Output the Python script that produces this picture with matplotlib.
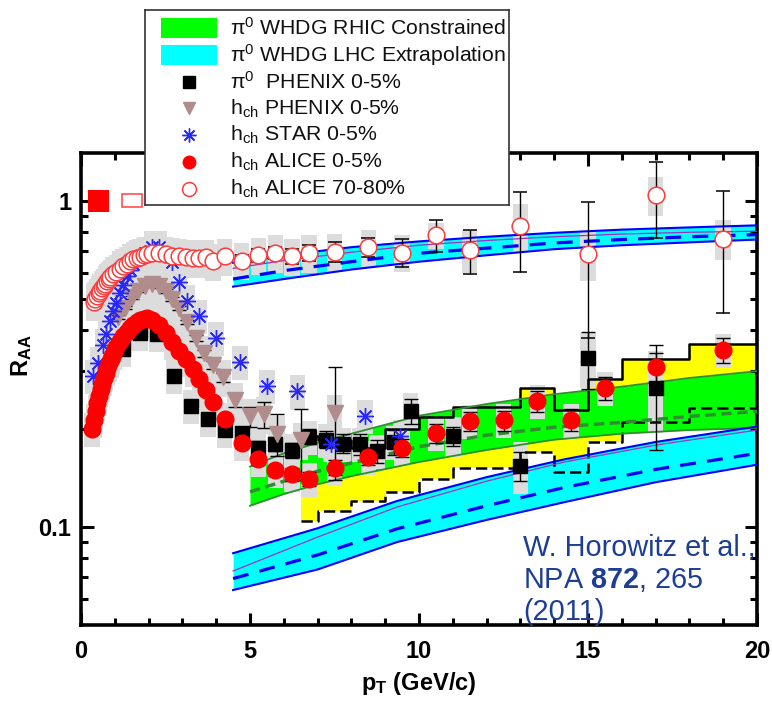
import numpy as np
import matplotlib
matplotlib.use('Agg')
import matplotlib.pyplot as plt
from matplotlib.patches import Rectangle
from matplotlib.ticker import FixedLocator, FixedFormatter, MultipleLocator, NullFormatter

plt.rcParams['font.family'] = ['Liberation Sans', 'DejaVu Sans']
plt.rcParams['mathtext.fontset'] = 'custom'
plt.rcParams['mathtext.rm'] = 'Liberation Sans'
plt.rcParams['mathtext.it'] = 'Liberation Sans:italic'
plt.rcParams['mathtext.bf'] = 'Liberation Sans:bold'

# ---- theory: WHDG RHIC constrained (green band)
rhic_pt = [5, 6, 7, 8, 10, 12, 14, 16, 18, 20]
rhic_hi = [0.153, 0.168, 0.181, 0.193, 0.219, 0.238, 0.255, 0.269, 0.286, 0.300]
rhic_lo = [0.116, 0.126, 0.135, 0.143, 0.158, 0.172, 0.185, 0.193, 0.198, 0.201]
rhic_mid = [0.128, 0.138, 0.148, 0.157, 0.176, 0.191, 0.202, 0.209, 0.218, 0.226]

# ---- theory: WHDG LHC extrapolation, central (lower cyan band)
lhc_pt = [4.5, 7, 9.35, 12, 14.3, 17, 20]
lhc_hi = [0.083, 0.099, 0.120, 0.142, 0.161, 0.182, 0.203]
lhc_lo = [0.064, 0.074, 0.0898, 0.105, 0.119, 0.137, 0.155]
lhc_mid = [0.0694, 0.082, 0.0986, 0.116, 0.132, 0.150, 0.168]
lhc_alt = [0.0732, 0.093, 0.115, 0.138, 0.158, 0.178, 0.198]

# ---- theory: WHDG LHC extrapolation, peripheral (upper cyan band)
per_pt = [4.5, 6, 8, 10, 12, 14, 16, 18, 20]
per_hi = [0.645, 0.68, 0.72, 0.75, 0.775, 0.797, 0.815, 0.828, 0.84]
per_lo = [0.545, 0.575, 0.615, 0.65, 0.68, 0.71, 0.73, 0.745, 0.76]
per_mid = [0.575, 0.61, 0.65, 0.69, 0.715, 0.742, 0.76, 0.775, 0.787]
per_alt = [0.62, 0.655, 0.695, 0.73, 0.755, 0.775, 0.79, 0.80, 0.806]

# ---- yellow histogram band
yb_edges = [6.5, 7, 8, 9, 10, 11, 13, 14, 15, 16, 18, 20]
yb_hi = [0.19, 0.185, 0.175, 0.20, 0.217, 0.233, 0.266, 0.228, 0.283, 0.327, 0.363]
yb_lo = [0.104, 0.112, 0.120, 0.128, 0.140, 0.152, 0.169, 0.147, 0.182, 0.209, 0.231]

# ---- ALICE h_ch 0-5%
alice_c_pt = [0.33, 0.38, 0.43, 0.48, 0.53, 0.58, 0.63, 0.68, 0.73, 0.78, 0.83, 0.88, 0.93, 0.98,
              1.05, 1.15, 1.25, 1.35, 1.45, 1.55, 1.65, 1.75, 1.85, 1.95,
              2.1, 2.3, 2.5, 2.7, 2.9, 3.1, 3.3, 3.5, 3.7, 3.9, 4.25, 4.75,
              5.25, 5.75, 6.25, 6.75, 7.5, 8.5, 9.5, 10.5, 11.5, 12.5, 13.5, 14.5, 15.5, 17.0, 19.0]
alice_c_r = [0.200, 0.212, 0.226, 0.240, 0.252, 0.264, 0.275, 0.286, 0.297, 0.307, 0.317, 0.326, 0.335, 0.343,
             0.355, 0.370, 0.384, 0.396, 0.407, 0.416, 0.424, 0.430, 0.434, 0.436,
             0.432, 0.415, 0.392, 0.368, 0.347, 0.327, 0.304, 0.283, 0.263, 0.242, 0.214, 0.181,
             0.161, 0.149, 0.145, 0.140, 0.152, 0.164, 0.175, 0.194, 0.211, 0.212, 0.243, 0.213, 0.266, 0.310, 0.348]
alice_c_err = [0.0] * 35 + [0.006, 0.006, 0.006, 0.007, 0.007, 0.008, 0.009, 0.011, 0.013,
                            0.014, 0.015, 0.018, 0.017, 0.022, 0.032, 0.031]
alice_c_sys = 0.12

# ---- ALICE h_ch 70-80%
alice_p_pt = [0.37, 0.42, 0.47, 0.52, 0.57, 0.62, 0.67, 0.72, 0.77, 0.82, 0.87, 0.95,
              1.05, 1.15, 1.25, 1.35, 1.45, 1.55, 1.65, 1.75, 1.85, 1.95,
              2.1, 2.3, 2.5, 2.7, 2.9, 3.1, 3.3, 3.5, 3.7, 3.9, 4.25, 4.75,
              5.25, 5.75, 6.25, 6.75, 7.5, 8.5, 9.5, 10.5, 11.5, 13.0, 15.0, 17.0, 19.0]
alice_p_r = [0.49, 0.50, 0.51, 0.52, 0.528, 0.538, 0.547, 0.556, 0.566, 0.575, 0.584, 0.595,
             0.605, 0.619, 0.63, 0.64, 0.652, 0.662, 0.668, 0.674, 0.679, 0.684,
             0.69, 0.692, 0.685, 0.678, 0.675, 0.672, 0.668, 0.668, 0.672, 0.652, 0.676, 0.655,
             0.679, 0.692, 0.676, 0.692, 0.697, 0.72, 0.693, 0.783, 0.705, 0.834, 0.684, 1.04, 0.764]
alice_p_err = [0.0] * 33 + [0.025, 0.03, 0.03, 0.035, 0.037, 0.05, 0.05, 0.068, 0.087,
                            0.11, 0.23, 0.306, 0.27, 0.31]
alice_p_sys = [0.13] * 40 + [0.13, 0.09, 0.15, 0.17, 0.17, 0.14, 0.14]

# ---- PHENIX pi0 0-5%
pi0_pt = [1.25, 1.75, 2.25, 2.75, 3.25, 3.75, 4.25, 4.75, 5.25, 5.75, 6.25, 6.75, 7.25,
          7.75, 8.25, 8.75, 9.25, 9.75, 11.0, 13.0, 15.0, 17.0]
pi0_r = [0.35, 0.393, 0.39, 0.29, 0.235, 0.214, 0.198, 0.194, 0.175, 0.18, 0.172, 0.189, 0.185,
         0.18, 0.179, 0.171, 0.182, 0.227, 0.19, 0.154, 0.33, 0.266]
pi0_err = [0.01, 0.01, 0.01, 0.008, 0.007, 0.007, 0.007, 0.008, 0.008, 0.009, 0.009, 0.01, 0.011,
           0.012, 0.013, 0.014, 0.016, 0.02, 0.013, 0.016, 0.065, 0.094]
pi0_sys = [0.12] * 17 + [0.13, 0.14, 0.18, 0.19, 0.27]

# ---- PHENIX h_ch 0-5%
hph_pt = [1.1, 1.3, 1.5, 1.7, 1.9, 2.1, 2.3, 2.5, 2.7, 2.9, 3.15, 3.4, 3.65, 3.9, 4.2, 4.55,
          5.0, 5.4, 5.8, 6.5, 7.5]
hph_r = [0.44, 0.47, 0.505, 0.53, 0.548, 0.555, 0.548, 0.528, 0.50, 0.468, 0.425, 0.378, 0.34,
         0.313, 0.287, 0.245, 0.218, 0.221, 0.193, 0.184, 0.224]
hph_err = [0.005, 0.005, 0.006, 0.006, 0.006, 0.007, 0.007, 0.007, 0.007, 0.007, 0.007, 0.008,
           0.008, 0.009, 0.01, 0.012, 0.015, 0.02, 0.028, 0.045, 0.085]
hph_sys = 0.13

# ---- STAR h_ch 0-5%
star_pt = [0.36, 0.51, 0.64, 0.74, 0.86, 0.96, 1.05, 1.15, 1.25, 1.35, 1.45, 1.55,
           1.7, 1.9, 2.1, 2.3, 2.7, 2.9, 3.15, 3.5, 4.0, 4.7, 5.5, 6.4, 7.4, 8.4, 9.45]
star_r = [0.29, 0.318, 0.36, 0.39, 0.428, 0.459, 0.487, 0.522, 0.553, 0.586, 0.615, 0.64,
          0.67, 0.69, 0.72, 0.72, 0.648, 0.562, 0.492, 0.442, 0.38, 0.321, 0.27, 0.26, 0.179, 0.219, 0.19]
star_sys = 0.12

# normalisation boxes: (pT centre, half width, relative size)
norm_central = (0.52, 0.31, 0.08)
norm_periph = (1.5, 0.3, 0.045)

W, H = 772, 701
fig = plt.figure(figsize=(W / 100, H / 100), dpi=100)
ax = fig.add_axes([81 / W, 1 - 625 / H, 676 / W, 472 / H])
ax.set_yscale('log')
ax.set_xlim(0, 20)
ax.set_ylim(0.05, 1.4)

GRAY = '#dcdcdc'
BOX_HW = 0.23


def sys_boxes(pt, r, sys):
    sys = np.broadcast_to(sys, len(pt))
    for x, y, s in zip(pt, r, sys):
        ax.add_patch(Rectangle((x - BOX_HW, y * (1 - s)), 2 * BOX_HW, 2 * y * s,
                               facecolor=GRAY, edgecolor='none', zorder=3))


# theory fills
ax.fill_between(yb_edges, np.append(yb_lo, yb_lo[-1]), np.append(yb_hi, yb_hi[-1]),
                step='post', color='#ffff00', lw=0, zorder=1)
ax.fill_between(rhic_pt, rhic_lo, rhic_hi, color='#00ff00', lw=0, zorder=1.2)
ax.fill_between(lhc_pt, lhc_lo, lhc_hi, color='#00ffff', lw=0, zorder=1.2)
ax.fill_between(per_pt, per_lo, per_hi, color='#00ffff', lw=0, zorder=1.2)

# systematic boxes
sys_boxes(pi0_pt, pi0_r, pi0_sys)
sys_boxes(hph_pt, hph_r, hph_sys)
sys_boxes(star_pt, star_r, star_sys)
sys_boxes(alice_c_pt, alice_c_r, alice_c_sys)
sys_boxes(alice_p_pt, alice_p_r, alice_p_sys)

# theory lines
ax.step(yb_edges, np.append(yb_hi, yb_hi[-1]), where='post', color='black', lw=1.8, zorder=4)
ax.step(yb_edges, np.append(yb_lo, yb_lo[-1]), where='post', color='black', lw=1.8,
        dashes=(4.5, 2), zorder=4)
ax.plot(rhic_pt, rhic_hi, color='#2f8f2f', lw=1.3, zorder=4)
ax.plot(rhic_pt, rhic_lo, color='#2f8f2f', lw=1.3, zorder=4)
ax.plot(rhic_pt, rhic_mid, color='#2f8f2f', lw=2.5, dashes=(3, 1.6), zorder=4)
for pt, hi, lo, mid, alt in [(lhc_pt, lhc_hi, lhc_lo, lhc_mid, lhc_alt),
                             (per_pt, per_hi, per_lo, per_mid, per_alt)]:
    ax.plot(pt, hi, color='#0000ff', lw=1.5, zorder=4)
    ax.plot(pt, lo, color='#0000ff', lw=1.5, zorder=4)
    ax.plot(pt, alt, color='#a030c0', lw=0.9, zorder=4)
    ax.plot(pt, mid, color='#0000ff', lw=2.3, dashes=(5, 3.5), zorder=4)

# normalisation uncertainty boxes
c, hw, s = norm_central
ax.add_patch(Rectangle((c - hw, 1 - s), 2 * hw, 2 * s, facecolor='#ff0000', edgecolor='none', zorder=2))
c, hw, s = norm_periph
ax.add_patch(Rectangle((c - hw, 1 - s), 2 * hw, 2 * s, facecolor='white', edgecolor='#ff5050',
                       lw=1.2, zorder=2))

# data
eb = dict(ecolor='black', elinewidth=1, capsize=5, capthick=1, linestyle='none')
ax.errorbar(pi0_pt, pi0_r, yerr=pi0_err, marker='s', ms=9.5, mfc='black', mec='black',
            zorder=5, **eb)
ax.errorbar(hph_pt, hph_r, yerr=hph_err, marker='v', ms=11, mfc='#b08c8c', mec='#b08c8c',
            zorder=6, **eb)
ax.plot(star_pt, star_r, linestyle='none', marker=(8, 2, 0), ms=12, mec='#2828ff', mew=1,
        zorder=7)
ax.errorbar(alice_c_pt, alice_c_r, yerr=alice_c_err, marker='o', ms=12, mfc='#ff0000',
            mec='#ff0000', zorder=8, **eb)
ax.errorbar(alice_p_pt, alice_p_r, yerr=alice_p_err, marker='o', ms=12, mfc='white',
            mec='#ff3b3b', mew=1.1, zorder=9, **eb)

# axes styling
for sp in ax.spines.values():
    sp.set_linewidth(2.6)
ax.xaxis.set_major_locator(MultipleLocator(5))
ax.xaxis.set_minor_locator(MultipleLocator(1))
ax.yaxis.set_major_locator(FixedLocator([0.1, 1]))
ax.yaxis.set_major_formatter(FixedFormatter(['0.1', '1']))
ax.yaxis.set_minor_locator(FixedLocator([0.06, 0.07, 0.08, 0.09, 0.2, 0.3, 0.4, 0.5,
                                         0.6, 0.7, 0.8, 0.9]))
ax.yaxis.set_minor_formatter(NullFormatter())
ax.tick_params(which='both', direction='in', top=True, right=True, width=2.2,
               labelsize=17)
ax.tick_params(which='major', length=9)
ax.tick_params(which='minor', length=5)
ax.tick_params(axis='x', pad=11)
ax.tick_params(axis='y', pad=7)
for lab in ax.get_xticklabels() + ax.get_yticklabels():
    lab.set_fontweight('bold')
ax.set_xlabel(r'p$_\mathbf{T}$ (GeV/c)', fontsize=17, fontweight='bold')
ax.set_ylabel(r'R$_\mathbf{AA}$', fontsize=17, fontweight='bold')
ax.xaxis.set_label_coords(0.5, -0.095)
ax.yaxis.set_label_coords(-0.07, 0.57)

# legend box
lax = fig.add_axes([145 / W, 1 - 205 / H, 364 / W, 195 / H])
lax.set_zorder(10)
lax.set_xlim(0, 364)
lax.set_ylim(195, 0)
lax.set_xticks([])
lax.set_yticks([])
for sp in lax.spines.values():
    sp.set_linewidth(1.2)
    sp.set_color('#333333')

entries = [
    ('patch', '#00ff00', r'π${}^0$ WHDG RHIC Constrained'),
    ('patch', '#00ffff', r'π${}^0$ WHDG LHC Extrapolation'),
    ('s', 'black', r'π${}^0$  PHENIX 0-5%'),
    ('v', '#b08c8c', r'h$_{\rm ch}$ PHENIX 0-5%'),
    ((8, 2, 0), '#2828ff', r'h$_{\rm ch}$ STAR 0-5%'),
    ('o', '#ff0000', r'h$_{\rm ch}$ ALICE 0-5%'),
    ('open', '#ff3b3b', r'h$_{\rm ch}$ ALICE 70-80%'),
]
for i, (kind, col, label) in enumerate(entries):
    yc = 18 + 26.8 * i
    if kind == 'patch':
        lax.add_patch(Rectangle((16, yc - 10), 56, 20, facecolor=col, edgecolor='none'))
    elif kind == 'open':
        lax.plot([44], [yc], marker='o', ms=10, mfc='white', mec=col, mew=1.1)
    elif kind == (8, 2, 0):
        lax.plot([44], [yc], marker=kind, ms=10, mec=col, mew=1, linestyle='none')
    else:
        lax.plot([44], [yc], marker=kind, ms=9, mfc=col, mec=col, linestyle='none')
    lax.text(85, yc, label, va='center', ha='left', fontsize=15.3, color='#111111')

# reference note
note_col = '#1c3f95'
fig.text(523 / W, 1 - 548 / H, 'W. Horowitz et al.,', fontsize=20.8, color=note_col,
         va='center', ha='left', zorder=20)
fig.text(523 / W, 1 - 580 / H, r'NPA $\mathbf{872}$, 265', fontsize=20.8, color=note_col,
         va='center', ha='left', zorder=20)
fig.text(523 / W, 1 - 612 / H, '(2011)', fontsize=20.8, color=note_col,
         va='center', ha='left', zorder=20)

fig.savefig('out.png', dpi=100)
